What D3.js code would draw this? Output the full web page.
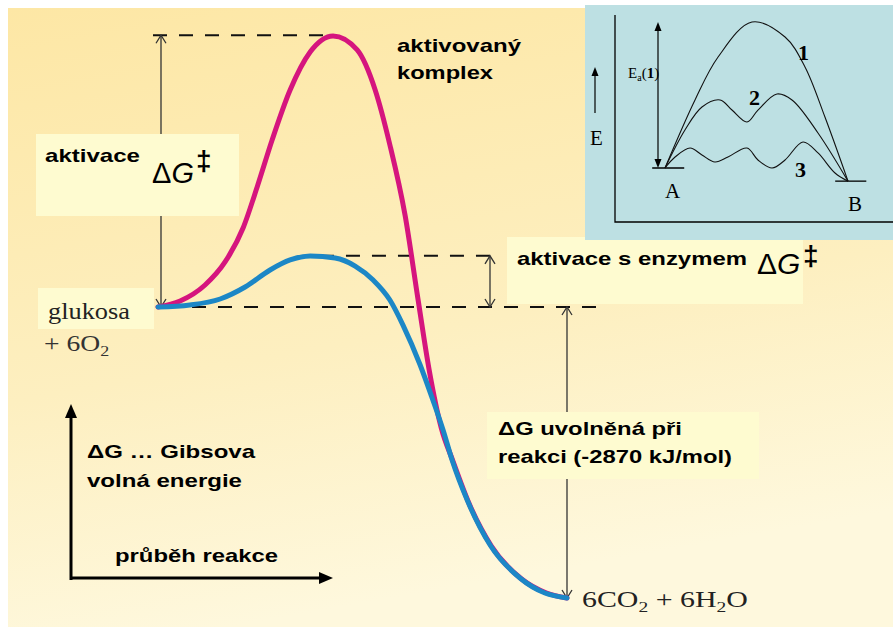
<!DOCTYPE html>
<html>
<head>
  <meta charset="utf-8">
  <title>Aktivační energie – oxidace glukosy</title>
  <script src="https://d3js.org/d3.v7.min.js"></script>
  <style>
    body { margin: 0; background: #fff; }
    svg { display: block; }
    .lbl { font-family: "Liberation Sans", Arial, sans-serif; font-weight: bold; fill: #000; }
    .sym { font-family: "Liberation Sans", Arial, sans-serif; fill: #000; }
    .chem { font-family: "Liberation Serif", "Times New Roman", serif; fill: #222; }
    .thin { stroke: #333; stroke-width: 1.3; fill: none; }
    .dash { stroke: #111; stroke-width: 2; stroke-dasharray: 14 12; fill: none; }
    .box { fill: #fefbd0; }
  </style>
</head>
<body>
<div id="chart"></div>
<script>
const width = 893, height = 627;

// průběh reakce (0-100) a ΔG v kJ/mol, glukosa + 6O2 = 0
const bezEnzymu = [[0,0],[5.4,59],[11.5,217],[16.4,444],[20.8,779],[24.4,1203],[27.9,1647],[32.3,2140],
  [37.2,2515],[42.8,2673],[48.7,2535],[53.1,2140],[56.7,1598],[60.4,907],[63.6,69],[66.3,-621],
  [69.2,-1184],[72.2,-1529],[75.9,-1923],[81.5,-2357],[88.9,-2683],[95,-2821],[100,-2870]];
const sEnzymem = [[0,0],[7.8,20],[15.2,79],[21.3,197],[27.4,365],[32.3,464],[37.2,503],[43.3,483],
  [48.2,404],[52.6,266],[56.7,69],[59.9,-178],[64.1,-572],[67.2,-917],[69.7,-1213],[71.9,-1509],
  [75.6,-1904],[81.2,-2347],[88.5,-2673],[94.6,-2821],[100,-2870]];
const hladiny = [0, -2870];       // výchozí látky, produkty
const vrcholy = [2680, 505];      // aktivovaný komplex bez enzymu / s enzymem

// malý graf vpravo nahoře (E, A -> B)
const krivka1 = [[0,0],[16.4,46.6],[29,76],[47.5,100],[65.6,89.7],[76.5,69.2],[87.4,34.9],[100,-9]];
const krivka2 = [[0,0],[10.9,26],[20.2,41.8],[30.1,46.6],[36.6,39.7],[44.8,31.5],[50.8,39.7],
  [61.2,50.7],[69.4,46.6],[83.6,24],[100,-9]];
const krivka3 = [[0,0],[5.5,7.5],[13.7,13.7],[20.2,8.9],[27.3,4.1],[34.4,7.5],[44.8,13.7],[50.8,5.5],
  [58.5,0],[65.6,5.5],[75.4,17.8],[83.6,10.3],[92.9,-3.4],[100,-9]];
const hladinyAB = [0, -9];

const svg = d3.select("#chart").append("svg")
    .attr("width", width)
    .attr("height", height);

const defs = svg.append("defs");
const grad = defs.append("linearGradient").attr("id", "bg")
    .attr("x1", 0).attr("y1", 0).attr("x2", 0.25).attr("y2", 1);
grad.append("stop").attr("offset", "0%").attr("stop-color", "#fde7a5");
grad.append("stop").attr("offset", "60%").attr("stop-color", "#fdefc0");
grad.append("stop").attr("offset", "100%").attr("stop-color", "#fef8dd");

svg.append("rect").attr("x", 8).attr("y", 8).attr("width", 885).attr("height", 619).attr("fill", "url(#bg)");

function txt(g, s, x, y, size, cls, len) {
  const t = g.append("text").attr("x", x).attr("y", y).attr("class", cls)
      .style("font-size", size + "px").text(s);
  if (len) t.attr("textLength", len).attr("lengthAdjust", "spacingAndGlyphs");
  return t;
}

// hrot šipky, uhel 0 = nahoru
function head(g, x, y, angle, type) {
  const d = type === "open" ? "M-5,8L0,0L5,8"
          : type === "big" ? "M0,0L-6,14L6,14Z"
          : "M0,0L-3.5,9L3.5,9Z";
  g.append("path").attr("d", d)
    .attr("transform", `translate(${x},${y}) rotate(${angle})`)
    .attr("fill", type === "open" ? "none" : "#000")
    .attr("stroke", type === "open" ? "#333" : "none")
    .attr("stroke-width", 1.3);
}

// ---------- hlavní graf ----------
const x = d3.scaleLinear().domain([0, 100]).range([158, 567]);
const y = d3.scaleLinear().domain([hladiny[1], hladiny[0]]).range([598, 307]);

const main = svg.append("g");

// přerušované čáry
main.append("line").attr("class", "dash")
    .attr("x1", 153).attr("x2", x(42)).attr("y1", y(vrcholy[0])).attr("y2", y(vrcholy[0]));
main.append("line").attr("class", "dash")
    .attr("x1", x(39.6)).attr("x2", 498).attr("y1", y(vrcholy[1])).attr("y2", y(vrcholy[1]));
main.append("line").attr("class", "dash")
    .attr("x1", 166).attr("x2", 603).attr("y1", y(hladiny[0])).attr("y2", y(hladiny[0]));

// šipky
function vArrow(px, v1, v2) {
  main.append("line").attr("class", "thin")
      .attr("x1", px).attr("x2", px).attr("y1", y(v1)).attr("y2", y(v2));
  head(main, px, y(v1), 0, "open");
  head(main, px, y(v2), 180, "open");
}
vArrow(161, vrcholy[0], hladiny[0]);
vArrow(490, vrcholy[1], hladiny[0]);
vArrow(x(100), hladiny[0], hladiny[1]);

const line = d3.line()
    .x(d => x(d[0]))
    .y(d => y(d[1]))
    .curve(d3.curveMonotoneX);

main.append("path").datum(bezEnzymu)
    .attr("d", line)
    .attr("fill", "none").attr("stroke", "#d5157e").attr("stroke-width", 5).attr("stroke-linecap", "round");
main.append("path").datum(sEnzymem)
    .attr("d", line)
    .attr("fill", "none").attr("stroke", "#1c87c6").attr("stroke-width", 5).attr("stroke-linecap", "round");

// rámečky s popisky
main.append("rect").attr("class", "box").attr("x", 36).attr("y", 134).attr("width", 203).attr("height", 82);
main.append("rect").attr("class", "box").attr("x", 38).attr("y", 288).attr("width", 116).attr("height", 41);
main.append("rect").attr("class", "box").attr("x", 507).attr("y", 237).attr("width", 296).attr("height", 67);
main.append("rect").attr("class", "box").attr("x", 487).attr("y", 412).attr("width", 272).attr("height", 67);

txt(main, "aktivovaný", 397, 52, 19, "lbl", 124);
txt(main, "komplex", 397, 79, 19, "lbl", 96);

txt(main, "aktivace", 45, 162, 19, "lbl", 95);
const dg1 = txt(main, "Δ", 152, 183, 29, "sym", null);
dg1.append("tspan").style("font-style", "italic").text("G");
txt(main, "‡", 196, 170, 28, "lbl", null);

txt(main, "glukosa", 48, 319, 23, "chem", 82);
const o2 = main.append("text").attr("class", "chem").style("font-size", "23px").style("fill", "#333")
    .attr("transform", "translate(44,351) scale(1.2,1)");
o2.append("tspan").text("+ 6O");
o2.append("tspan").attr("dy", 5).style("font-size", "15px").text("2");

txt(main, "aktivace s enzymem", 517, 265, 19, "lbl", 230);
const dg2 = txt(main, "Δ", 757, 274, 30, "sym", null);
dg2.append("tspan").style("font-style", "italic").text("G");
txt(main, "‡", 803, 265, 28, "lbl", null);

txt(main, "ΔG uvolněná při", 498, 435, 19, "lbl", 184);
txt(main, "reakci (-2870 kJ/mol)", 498, 463, 19, "lbl", 234);

// osy vlevo dole
main.append("line").attr("x1", 71).attr("x2", 71).attr("y1", 580).attr("y2", 415)
    .attr("stroke", "#000").attr("stroke-width", 3);
head(main, 71, 404, 0, "big");
main.append("line").attr("x1", 70).attr("x2", 322).attr("y1", 578).attr("y2", 578)
    .attr("stroke", "#000").attr("stroke-width", 3);
head(main, 333, 578, 90, "big");

txt(main, "ΔG … Gibsova", 87, 458, 19, "lbl", 168);
txt(main, "volná energie", 87, 487, 19, "lbl", 155);
txt(main, "průběh reakce", 115, 562, 19, "lbl", 163);

const prod = main.append("text").attr("class", "chem").style("font-size", "23px")
    .attr("transform", "translate(582,607) scale(1.3,1)");
prod.append("tspan").text("6CO");
prod.append("tspan").attr("dy", 5).style("font-size", "15px").text("2");
prod.append("tspan").attr("dy", -5).text(" + 6H");
prod.append("tspan").attr("dy", 5).style("font-size", "15px").text("2");
prod.append("tspan").attr("dy", -5).text("O");

// ---------- malý graf ----------
const inset = svg.append("g");
inset.append("rect").attr("x", 585).attr("y", 5).attr("width", 308).attr("height", 235).attr("fill", "#bde0e3");

const ix = d3.scaleLinear().domain([0, 100]).range([665, 848]);
const iy = d3.scaleLinear().domain([0, 100]).range([168, 22]);

inset.append("path").attr("d", "M615,15V222H893")
    .attr("fill", "none").attr("stroke", "#000").attr("stroke-width", 1.3);

inset.append("line").attr("x1", ix(-7)).attr("x2", ix(10.5)).attr("y1", iy(hladinyAB[0])).attr("y2", iy(hladinyAB[0]))
    .attr("stroke", "#000").attr("stroke-width", 1.3);
inset.append("line").attr("x1", ix(93)).attr("x2", ix(110)).attr("y1", iy(hladinyAB[1])).attr("y2", iy(hladinyAB[1]))
    .attr("stroke", "#000").attr("stroke-width", 1.3);

// Ea(1)
inset.append("line").attr("x1", 658).attr("x2", 658).attr("y1", iy(100) + 8).attr("y2", iy(0) - 8)
    .attr("stroke", "#000").attr("stroke-width", 1.2);
head(inset, 658, iy(100), 0, "small");
head(inset, 658, iy(0), 180, "small");

// šipka E
inset.append("line").attr("x1", 595).attr("x2", 595).attr("y1", 113).attr("y2", 75)
    .attr("stroke", "#000").attr("stroke-width", 1.2);
head(inset, 595, 67, 0, "small");

const iline = d3.line()
    .x(d => ix(d[0]))
    .y(d => iy(d[1]))
    .curve(d3.curveCatmullRom.alpha(0.5));

[krivka1, krivka2, krivka3].forEach(k => {
  inset.append("path").datum(k).attr("d", iline)
      .attr("fill", "none").attr("stroke", "#111").attr("stroke-width", 1.1);
});

const icls = "chem";
txt(inset, "E", 590, 145, 21, icls, null).style("fill", "#000");
txt(inset, "A", 665, 198, 21, icls, null).style("fill", "#000");
txt(inset, "B", 848, 211, 21, icls, null).style("fill", "#000");
txt(inset, "1", 798, 60, 22, icls, null).style("fill", "#000").style("font-weight", "bold");
txt(inset, "2", 749, 105, 22, icls, null).style("fill", "#000").style("font-weight", "bold");
txt(inset, "3", 795, 177, 22, icls, null).style("fill", "#000").style("font-weight", "bold");

const ea = txt(inset, "E", 628, 78, 15, icls, null).style("fill", "#000");
ea.append("tspan").attr("dy", 3).style("font-size", "10px").text("a");
ea.append("tspan").attr("dy", -3).text("(");
ea.append("tspan").style("font-weight", "bold").text("1");
ea.append("tspan").text(")");
</script>
</body>
</html>
